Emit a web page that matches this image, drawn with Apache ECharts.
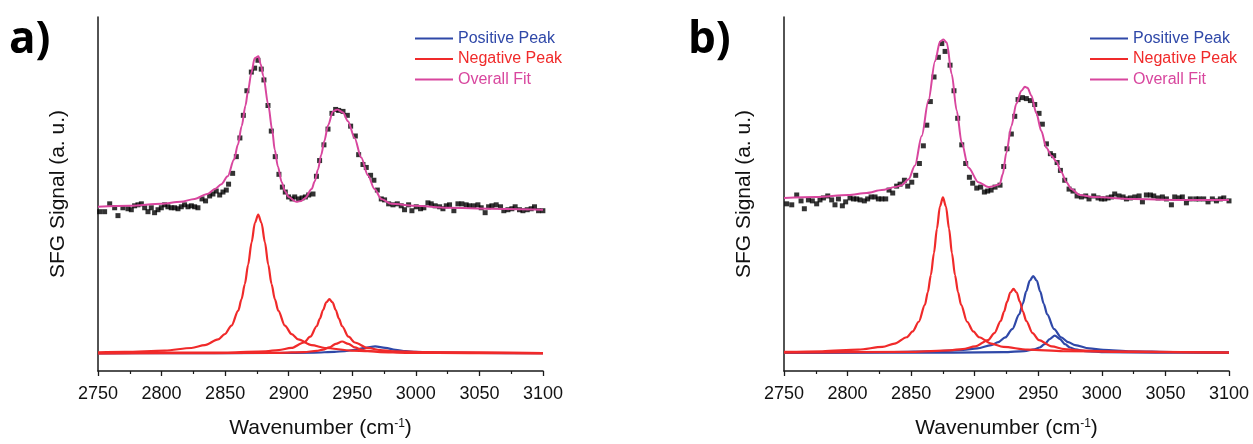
<!DOCTYPE html>
<html>
<head>
<meta charset="utf-8">
<script src="https://cdn.jsdelivr.net/npm/echarts@6/dist/echarts.min.js"></script>
<style>
html,body{margin:0;padding:0;background:#fff;}
#chart{width:1253px;height:444px;}
</style>
</head>
<body>
<div id="chart"></div>
<script>
// ---------- Panel a ----------
const aDataX = [2751.3,2755.2,2759.2,2763.1,2765.7,2769.6,2773.6,2776.2,2778.8,2781.4,
2784.1,2786.7,2789.3,2791.9,2794.5,2797.2,2799.8,2802.4,2805,2807.6,
2810.3,2812.9,2815.5,2818.1,2820.8,2823.4,2826,2828.6,2831.8,2834.6,
2837.8,2840.4,2843,2845.7,2848.3,2850.9,2852.7,2855.9,2858.8,2861.6,
2864.3,2867.1,2870.6,2873.2,2875.8,2878.4,2880.5,2883.7,2886.3,2889.4,
2892.3,2895,2897.3,2899.9,2902.6,2904.7,2907.8,2910.5,2913.1,2915.7,
2919.1,2921.8,2924.3,2927.7,2930.9,2934,2936.9,2939.3,2942.7,2946.1,
2948.7,2952.4,2955,2958.4,2961,2964.4,2967,2969.7,2972.8,2975.4,
2978.6,2982,2985.4,2988.5,2991.1,2994.3,2996.9,3000.3,3003.7,3006.3,
3009.5,3012.1,3015.2,3018.7,3021.3,3023.9,3026.5,3029.9,3033.1,3036.2,
3039.6,3042.2,3045.6,3048.8,3051.4,3054.5,3057.2,3059.8,3063.2,3066.6,
3069.2,3072.4,3075.5,3078.1,3081.5,3084.2,3087.6,3090.7,3093.3,3096.5,
3099.9];
const aDataY = [162,162,170,166,158,166,165,164,168,169,
170,166,162,166,161,164,166,169,167,166,
166,165,167,169,167,168,167,166,175,173,
178,180,183,179,182,184,190,201,218,237,
260,285,304,308,316,307,296,270,244,218,
200,187,182,177,175,177,175,176,177,179,
180,198,214,230,246,262,266,265,264,260,
249,239,220,210,207,199,194,184,175,174,
170,169,170,168,164,169,163,167,165,166,
171,170,168,167,165,168,169,163,170,170,
169,168,168,169,166,161,167,168,169,167,
163,164,165,167,164,163,164,165,167,163,
163];
const aFitX = [2750,2775,2800,2815,2826,2836,2842,2847,2852,2857,2860,2863,2866,2868,2870.6,2873.2,2876.2,2878,2880,2884,2887,2889,2891.5,2894.5,2897,2900,2906,2910,2913,2918,2920.5,2923,2925.6,2928,2931,2934.8,2938.2,2942.7,2946.6,2951.8,2957,2962.3,2967.5,2972.8,2980.6,2999,3025,3060,3100];
const aFitY = [167,168,170,172,175,180,185,190,198,215,230,249,270,285,303,318,320,312,300,270,245,225,208,192,183,177,172,173,176,185,193,205,220,234,250,264,266,263,254,237,217,199,185,175,170,168,166,165,164];
const aNeg1X = [2750,2771,2802.5,2823.5,2834,2844.5,2849.8,2855,2860.3,2862.9,2865.5,2868.1,2870.8,2873.4,2876,2878.6,2881.3,2883.9,2886.5,2889.1,2891.8,2897,2902.3,2907.5,2918,2928.5,2949.5,2981,3100];
const aNeg1Y = [19,19.4,20.8,23.4,26.3,32.1,37.5,46.2,61.4,73,88.5,108.2,130.8,150.7,159,150.7,130.8,108.2,88.5,73,61.4,46.2,37.5,32.1,26.3,23.4,20.8,19.4,18.3];
const aNeg2X = [2750,2852,2882,2892,2902,2912,2917,2922,2924.5,2927,2929.5,2932,2934.5,2937,2939.5,2942,2947,2952,2962,2972,2982,3012,3100];
const aNeg2Y = [18.2,18.8,20.1,21.2,23.5,29,34.9,45.5,53.2,62,69.8,73,69.8,62,53.2,45.5,34.9,29,23.5,21.2,20.1,18.8,18.2];
const aNeg3X = [2750,2842,2892,2912,2922,2927,2932,2937,2942,2947,2952,2957,2962,2972,2992,3042,3100];
const aNeg3Y = [18,18.1,18.5,19.2,20.4,21.7,24,27.6,30,27.6,24,21.7,20.4,19.2,18.5,18.1,18];
const aPosX = [2750,2808,2888,2920,2936,2944,2952,2960,2968,2976,2984,2992,3000,3016,3048,3100];
const aPosY = [18,18.1,18.3,18.7,19.4,20.2,21.5,23.6,25,23.6,21.5,20.2,19.4,18.7,18.3,18.1];

// ---------- Panel b ----------
const bDataX = [2752.1,2756.1,2760,2763.4,2766,2769.2,2772.3,2775.7,2778.3,2781,
2784.4,2787.5,2790.1,2792.8,2795.9,2798.5,2801.9,2804.6,2807.2,2809.8,
2813.2,2815.8,2818.5,2821.6,2824.2,2826.9,2830,2832.6,2835.5,2838.6,
2841.3,2844.7,2847.3,2850.5,2853.6,2856.5,2859.6,2862.3,2865.1,2868,
2871.4,2874.1,2876.7,2880.6,2883.7,2886.6,2889.8,2892.9,2895.8,2898.4,
2901.6,2904.7,2907.6,2910.2,2912.9,2916,2919.9,2922.8,2925.4,2928.8,
2931.5,2934.1,2937.5,2940.6,2943.8,2947.2,2950.6,2953.2,2956.4,2959.5,
2962.1,2964.8,2967.4,2970.8,2974.2,2977.3,2980.5,2983.9,2987.3,2989.9,
2993.6,2997,2999.6,3002.3,3004.9,3007.5,3010.1,3013.5,3016.7,3019.3,
3022.4,3025.9,3029.3,3031.9,3035,3038.2,3040.8,3044.2,3047.6,3050.8,
3054.7,3057.3,3060.7,3063.3,3066.5,3069.6,3073.8,3076.5,3080.1,3083.5,
3086.9,3090.1,3093.2,3095.9,3100];
const bDataY = [170,169,179,173,165,174,173,170,174,176,
178,174,169,175,168,172,176,175,175,174,
173,175,177,177,175,175,175,184,181,188,
190,194,188,192,199,211,229,250,274,299,
319,333,325,311,285,257,230,211,197,191,
186,187,182,183,184,187,189,208,226,241,
259,276,278,277,275,271,262,251,231,221,
219,212,204,194,185,183,178,177,178,175,
178,176,175,175,176,177,180,178,177,175,
176,177,178,172,179,179,178,176,177,175,
169,177,176,177,171,175,175,175,175,172,
175,173,175,176,173];
const bFitX = [2750,2775,2800.6,2815,2826.9,2837.3,2842.6,2848,2853,2858.3,2863.6,2868.8,2872.7,2875.4,2878,2881.9,2885.8,2889.8,2895,2902.9,2910.8,2914.7,2919.7,2922,2924.9,2928.8,2932.8,2936.7,2939.5,2941.5,2944.6,2948.5,2952.4,2956.4,2960.3,2964.2,2968.2,2972.1,2976,2982.6,2993.1,3024.5,3060,3100];
const bFitY = [176,177,179,181,184,187,189,195,209,239,275,315,335,337,334,302,265,232,207,192,187,188,190,200,222,249,272,285,289,288,280,262,244,227,219,213,202,192,185,179,177,175,174,174];
const bNeg1X = [2750,2780,2808.5,2827.5,2837,2846.5,2851.3,2856,2860.8,2863.1,2865.5,2867.9,2870.3,2872.6,2875,2877.4,2879.8,2882.1,2884.5,2886.9,2889.3,2894,2898.8,2903.5,2913,2922.5,2941.5,2970,3100];
const bNeg1Y = [19.4,20.1,21.7,24.6,27.8,34.3,40.3,50.1,67.2,80.1,97.5,119.6,144.9,167.2,176.5,167.2,144.9,119.6,97.5,80.1,67.2,50.1,40.3,34.3,27.8,24.6,21.7,20.1,18.8];
const bNeg2X = [2750,2850.5,2880.5,2890.5,2900.5,2910.5,2915.5,2920.5,2923,2925.5,2928,2930.5,2933,2935.5,2938,2940.5,2945.5,2950.5,2960.5,2970.5,2980.5,3010.5,3100];
const bNeg2Y = [18.7,19.5,21,22.3,25,31.5,38.5,51,60.1,70.5,79.7,83.5,79.7,70.5,60.1,51,38.5,31.5,25,22.3,21,19.5,18.7];
const bPos1X = [2750,2836,2869,2891,2902,2913,2918.5,2924,2929.5,2935,2937.8,2940.5,2943.3,2946,2948.8,2951.5,2954.3,2957,2962.5,2968,2973.5,2979,2990,3001,3023,3056,3100];
const bPos1Y = [18.8,19.3,20.1,21.5,23.1,26.3,29.3,34.1,42.5,57.5,68.4,80.9,91.9,96.5,91.9,80.9,68.4,57.5,42.5,34.1,29.3,26.3,23.1,21.5,20.1,19.3,18.9];
const bPos2X = [2750,2883,2923,2939,2947,2951,2955,2959,2963,2967,2971,2975,2979,2987,3003,3043,3100];
const bPos2Y = [18.5,18.7,19.2,20.3,22,23.9,27.3,32.5,36,32.5,27.3,23.9,22,20.3,19.2,18.7,18.5];

const xTicks = [2750, 2800, 2850, 2900, 2950, 3000, 3050, 3100];
const panelLabels = ['a)', 'b)'];
const legendNames = ['Positive Peak', 'Negative Peak', 'Overall Fit'];

const BLUE = '#2f48a8', RED = '#f02a2a', PINK = '#d8469e', INK = '#1a1a1a';
const FONT = '"Liberation Sans", Arial, sans-serif';
const zip = (xs, ys) => xs.map((x, i) => [x, ys[i]]);

function xAxisFor(i) {
  return {
    type: 'value', gridIndex: i, min: xTicks[0], max: xTicks[xTicks.length - 1], interval: 50,
    axisLine: { show: true, onZero: false, lineStyle: { color: INK, width: 1.5 } },
    axisTick: { show: true, inside: false, length: 5, lineStyle: { color: INK, width: 1.3 } },
    minorTick: { show: true, splitNumber: 2, length: 3, lineStyle: { color: INK, width: 1.2 } },
    splitLine: { show: false }, minorSplitLine: { show: false },
    axisLabel: { fontSize: 18, color: '#111', fontFamily: FONT, margin: 14,
      formatter: v => String(v) },
    name: '{t|Wavenumber (cm}{s|-1}{t|)}', nameLocation: 'middle', nameGap: 47,
    nameTextStyle: { rich: {
      t: { fontSize: 21, color: '#111', fontFamily: FONT, lineHeight: 21 },
      s: { fontSize: 12, color: '#111', fontFamily: FONT, verticalAlign: 'top', lineHeight: 12 }
    } }
  };
}
function yAxisFor(i) {
  return {
    type: 'value', gridIndex: i, min: 0, max: 360,
    axisLine: { show: true, onZero: false, lineStyle: { color: INK, width: 1.5 } },
    axisTick: { show: false }, axisLabel: { show: false }, splitLine: { show: false },
    name: 'SFG Signal (a. u.)', nameLocation: 'middle', nameGap: 29,
    nameTextStyle: { fontSize: 21, color: '#111', fontFamily: FONT }
  };
}
function lineSeries(name, xs, ys, color, i, z, w) {
  return { type: 'line', name, data: zip(xs, ys), xAxisIndex: i, yAxisIndex: i,
    showSymbol: false, symbol: 'none', smooth: 0.3, smoothMonotone: 'x', z,
    color, lineStyle: { color, width: w } };
}
function scatterSeries(xs, ys, i) {
  return { type: 'scatter', name: 'Data', data: zip(xs, ys), xAxisIndex: i, yAxisIndex: i,
    symbol: 'rect', symbolSize: 5, itemStyle: { color: '#000' }, z: 3 };
}
function legendFor(left) {
  const cols = [BLUE, RED, PINK];
  return { orient: 'vertical', left, top: 30.5, padding: 0, itemWidth: 38, itemHeight: 2, itemGap: 4.5,
    icon: 'rect', selectedMode: false,
    textStyle: { fontSize: 16, lineHeight: 16, fontFamily: FONT },
    data: legendNames.map((n, k) => ({ name: n, textStyle: { color: cols[k] } })) };
}

const chart = echarts.init(document.getElementById('chart'), null, { renderer: 'canvas' });
chart.setOption({
  animation: false,
  backgroundColor: '#fff',
  grid: [
    { left: 98, top: 17, width: 445, height: 360 },
    { left: 784, top: 17, width: 445, height: 360 }
  ],
  xAxis: [xAxisFor(0), xAxisFor(1)],
  yAxis: [yAxisFor(0), yAxisFor(1)],
  legend: [legendFor(415), legendFor(1090)],
  graphic: [
    { type: 'text', left: 9, top: 18, style: { text: panelLabels[0], font: 'bold 44px "Open Sans", Arial, sans-serif', fill: '#000' } },
    { type: 'text', left: 688, top: 18, style: { text: panelLabels[1], font: 'bold 44px "Open Sans", Arial, sans-serif', fill: '#000' } }
  ],
  series: [
    scatterSeries(aDataX, aDataY, 0),
    lineSeries('Positive Peak', aPosX, aPosY, BLUE, 0, 4, 2.2),
    lineSeries('Negative Peak', aNeg1X, aNeg1Y, RED, 0, 5, 2.2),
    lineSeries('Negative Peak', aNeg2X, aNeg2Y, RED, 0, 5, 2.2),
    lineSeries('Negative Peak', aNeg3X, aNeg3Y, RED, 0, 5, 2.2),
    lineSeries('Overall Fit', aFitX, aFitY, PINK, 0, 6, 2),

    scatterSeries(bDataX, bDataY, 1),
    lineSeries('Positive Peak', bPos1X, bPos1Y, BLUE, 1, 4, 2.2),
    lineSeries('Positive Peak', bPos2X, bPos2Y, BLUE, 1, 4, 2.2),
    lineSeries('Negative Peak', bNeg1X, bNeg1Y, RED, 1, 5, 2.2),
    lineSeries('Negative Peak', bNeg2X, bNeg2Y, RED, 1, 5, 2.2),
    lineSeries('Overall Fit', bFitX, bFitY, PINK, 1, 6, 2)
  ]
});
</script>
</body>
</html>
